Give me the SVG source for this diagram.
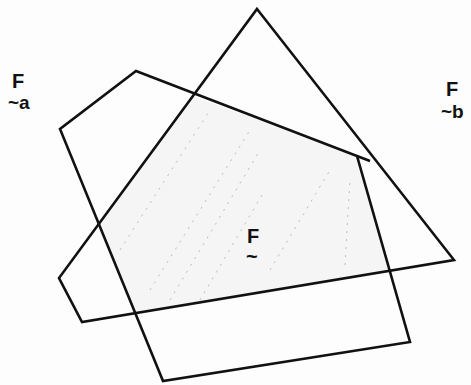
<svg xmlns="http://www.w3.org/2000/svg" width="471" height="385" viewBox="0 0 471 385">
<style>
.edge{fill:none;stroke:#111;stroke-width:2.6;stroke-linejoin:miter}
.lbl{font-family:"Liberation Sans",Arial,sans-serif;font-weight:bold;fill:#111}
.dots{fill:none;stroke:#bbb;stroke-width:1;stroke-dasharray:2 6}
</style>
<rect width="471" height="385" fill="#fdfdfd"/>
<g id="region-F">
<polygon points="195,97 357,156 390,270 136,312 97,226" fill="#f5f5f5"/>
<path class="dots" d="M150,290 L250,130 M170,300 L260,150 M200,300 L265,190 M270,270 L330,170 M345,265 L350,180 M120,250 L210,110"/>
<text class="lbl" x="247" y="243" font-size="20">F</text>
<text class="lbl" x="246" y="263" font-size="20">~</text>
</g>
<g id="Fa">
<polygon class="edge" points="136,71 357,156 410,342 163,381 60,129"/>
<line class="edge" x1="357" y1="156" x2="370" y2="161"/>
<text class="lbl" x="12" y="88" font-size="20">F</text>
<text class="lbl" x="8" y="109" font-size="19">~a</text>
</g>
<g id="Fb">
<polygon class="edge" points="257,9 454,260 82,322 59,278"/>
<text class="lbl" x="446" y="96" font-size="20">F</text>
<text class="lbl" x="441" y="118" font-size="19">~b</text>
</g>
</svg>
